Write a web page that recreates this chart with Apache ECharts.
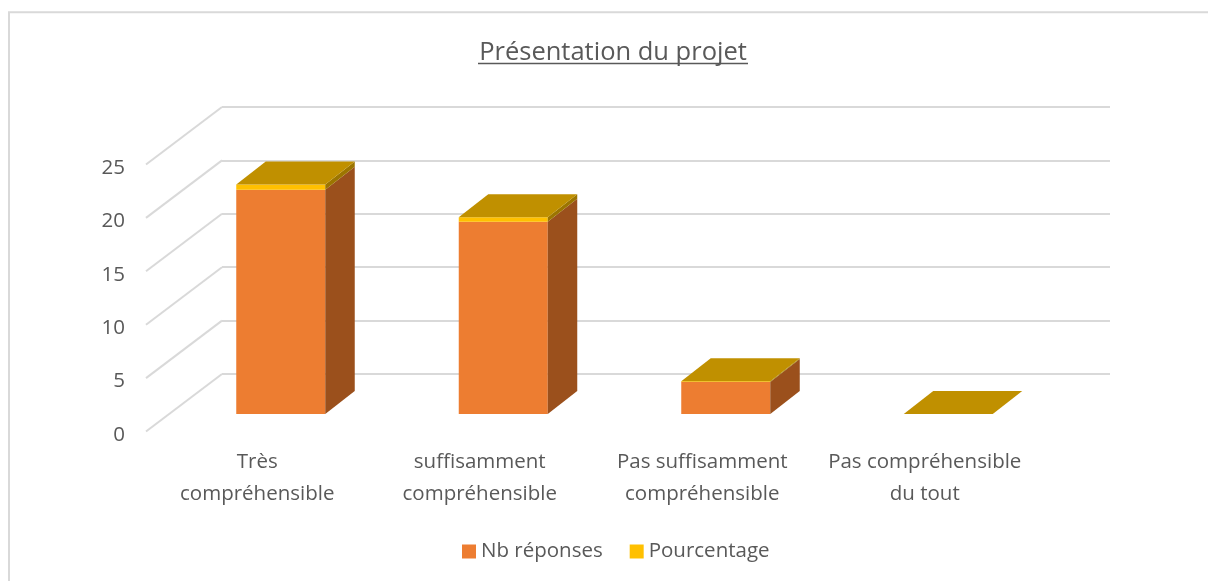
<!DOCTYPE html>
<html>
<head>
  <meta charset="UTF-8">
  <title>Présentation du projet</title>
  <script src="https://cdn.jsdelivr.net/npm/echarts@6/dist/echarts.min.js"></script>
  <style>
    html, body { margin: 0; padding: 0; background: #fff; }
    #chart { width: 1208px; height: 581px; }
  </style>
</head>
<body>
  <div id="chart"></div>
  <script>
    const categories = ['Très\ncompréhensible', 'suffisamment\ncompréhensible', 'Pas suffisamment\ncompréhensible', 'Pas compréhensible\ndu tout'];
    const nbReponses = [21, 18, 3, 0];
    const pourcentage = [0.5, 0.43, 0.07, 0];
    const yTicks = [0, 5, 10, 15, 20, 25];

    const FONT = '"Open Sans", sans-serif';
    const TEXT = '#595959';
    const GRID_LINE = '#D9D9D9';
    // décalage de la perspective (plan avant -> mur du fond)
    const WALL_DX = 76, WALL_DY = -57.5;
    // position des barres dans la profondeur
    const BAR_DX = 23.5, BAR_DY = -17.5, DEPTH_DX = 29.5, DEPTH_DY = -23;

    function box3d(api, colors, withCap) {
      const cat = api.value(0);
      const low = api.coord([cat, api.value(1)]);
      const high = api.coord([cat, api.value(2)]);
      const half = api.size([1, 0])[0] * 0.2;
      const x0 = low[0] + BAR_DX - half, x1 = low[0] + BAR_DX + half;
      const y0 = low[1] + BAR_DY, y1 = high[1] + BAR_DY;
      const children = [];
      const poly = (points, fill) => children.push({ type: 'polygon', shape: { points }, style: { fill }, silent: true });
      if (y0 - y1 > 0) {
        poly([[x0, y0], [x1, y0], [x1, y1], [x0, y1]], colors.front);
        poly([[x1, y0], [x1 + DEPTH_DX, y0 + DEPTH_DY], [x1 + DEPTH_DX, y1 + DEPTH_DY], [x1, y1]], colors.side);
      }
      if (withCap) {
        poly([[x0, y1], [x1, y1], [x1 + DEPTH_DX, y1 + DEPTH_DY], [x0 + DEPTH_DX, y1 + DEPTH_DY]], colors.top);
      }
      return { type: 'group', children };
    }

    const orangeColors = { front: '#ED7D31', side: '#9B501C' };
    const yellowColors = { front: '#FFC000', side: '#9C7500', top: '#C09000' };

    const myChart = echarts.init(document.getElementById('chart'));
    myChart.setOption({
      animation: false,
      backgroundColor: '#fff',
      title: {
        text: 'Présentation du projet',
        left: 608,
        top: 35,
        textAlign: 'center',
        textStyle: { fontFamily: FONT, fontSize: 25.5, fontWeight: 'normal', color: TEXT }
      },
      legend: {
        data: ['Nb réponses', 'Pourcentage'],
        left: 457,
        top: 536,
        icon: 'rect',
        itemWidth: 14,
        itemHeight: 14,
        itemGap: 27,
        selectedMode: false,
        textStyle: { fontFamily: FONT, fontSize: 20.5, color: TEXT }
      },
      grid: [
        { left: 146, top: 164.5, width: 890, height: 267 },
        { left: 146 + WALL_DX, top: 164.5 + WALL_DY, width: 888, height: 267 }
      ],
      xAxis: [
        {
          type: 'category',
          gridIndex: 0,
          data: categories,
          axisLine: { show: false },
          axisTick: { show: false },
          axisLabel: { fontFamily: FONT, fontSize: 20.5, color: TEXT, lineHeight: 32, margin: 15, interval: 0 }
        },
        { type: 'category', gridIndex: 1, data: categories, show: false }
      ],
      yAxis: [
        {
          type: 'value',
          gridIndex: 0,
          min: 0,
          max: 25,
          interval: 5,
          axisLine: { show: false },
          axisTick: { show: false },
          splitLine: { show: false },
          axisLabel: {
            margin: 21,
            formatter: '{v|{value}}',
            rich: { v: { fontFamily: FONT, fontSize: 20.5, color: TEXT, padding: [7, 0, 0, 0] } }
          }
        },
        {
          type: 'value',
          gridIndex: 1,
          min: 0,
          max: 25,
          interval: 5,
          axisLine: { show: false },
          axisTick: { show: false },
          axisLabel: { show: false },
          splitLine: { lineStyle: { color: GRID_LINE, width: 2 } }
        }
      ],
      series: [
        {
          // lignes obliques du mur de gauche
          type: 'custom',
          name: 'walls',
          silent: true,
          xAxisIndex: 0,
          yAxisIndex: 0,
          data: yTicks.map(t => [t]),
          encode: { y: 0 },
          renderItem: (params, api) => {
            const front = api.coord([0, api.value(0)]);
            const x = front[0] - api.size([1, 0])[0] / 2;
            return {
              type: 'line',
              shape: { x1: x, y1: front[1], x2: x + WALL_DX, y2: front[1] + WALL_DY },
              style: { stroke: GRID_LINE, lineWidth: 2 },
              silent: true
            };
          }
        },
        {
          type: 'custom',
          name: 'Nb réponses',
          silent: true,
          xAxisIndex: 0,
          yAxisIndex: 0,
          itemStyle: { color: orangeColors.front },
          data: categories.map((c, i) => [i, 0, nbReponses[i]]),
          encode: { x: 0, y: [1, 2] },
          renderItem: (params, api) => box3d(api, orangeColors, false)
        },
        {
          type: 'custom',
          name: 'Pourcentage',
          silent: true,
          xAxisIndex: 0,
          yAxisIndex: 0,
          itemStyle: { color: yellowColors.front },
          data: categories.map((c, i) => [i, nbReponses[i], nbReponses[i] + pourcentage[i]]),
          encode: { x: 0, y: [1, 2] },
          renderItem: (params, api) => box3d(api, yellowColors, true)
        }
      ],
      graphic: [
        {
          // cadre du graphique : gauche et haut seulement
          type: 'polyline',
          silent: true,
          shape: { points: [[9, 581], [9, 12.3], [1208, 12.3]] },
          style: { stroke: GRID_LINE, lineWidth: 2, fill: null }
        },
        {
          // soulignement du titre
          type: 'line',
          silent: true,
          shape: { x1: 478, y1: 63.5, x2: 748, y2: 63.5 },
          style: { stroke: TEXT, lineWidth: 1.5 }
        }
      ]
    });
  </script>
</body>
</html>
